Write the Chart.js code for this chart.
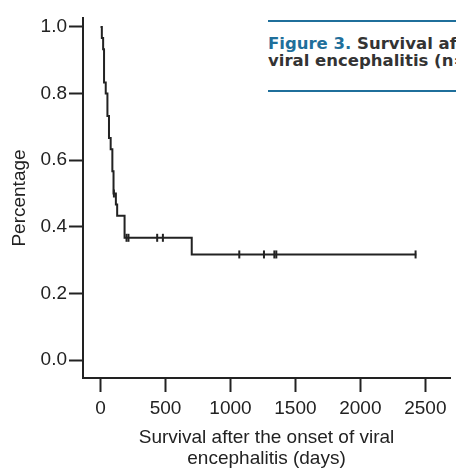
<!DOCTYPE html>
<html>
<head>
<meta charset="utf-8">
<script src="https://cdn.jsdelivr.net/npm/chart.js@4/dist/chart.umd.min.js"></script>
<style>
  body { margin: 0; background: #fff; }
  #wrap { position: relative; width: 456px; height: 476px; overflow: hidden; }
  #caption {
    position: absolute; left: 268px; top: 20px; width: 200px; height: 55px;
    border-top: 2px solid #1f6f9b; border-bottom: 2px solid #1f6f9b;
    background: #fff; white-space: nowrap;
    font: bold 16.5px "DejaVu Sans", sans-serif; line-height: 17px;
    color: #333; padding-top: 13px;
  }
  #caption .fig { color: #1f6f9b; }
</style>
</head>
<body>
<div id="wrap">
  <canvas id="km" width="456" height="476"></canvas>
  <div id="caption"><span class="fig">Figure 3.</span> Survival after the onset of<br>viral encephalitis (n=</div>
</div>
<script>
// Kaplan-Meier steps (day of event, survival after the event)
const survDays = [0, 10, 20, 27, 40, 53, 65, 78, 91, 100, 118, 128, 185, 702, 2430];
const survProb = [1.0, 0.967, 0.933, 0.833, 0.80, 0.733, 0.667, 0.633, 0.567, 0.50, 0.467, 0.433, 0.367, 0.317, 0.317];

// censored patients
const censorDays = [103, 200, 215, 436, 480, 1068, 1258, 1338, 1353, 2425];
const censorProb = [0.50, 0.367, 0.367, 0.367, 0.367, 0.317, 0.317, 0.317, 0.317, 0.317];

const xTicks = [0, 500, 1000, 1500, 2000, 2500];
const yTicks = [0.0, 0.2, 0.4, 0.6, 0.8, 1.0];

const ink = '#222';
const axisFont = { family: '"Liberation Sans", Arial, sans-serif', size: 19 };

const survPoints = survDays.map((d, i) => ({ x: d, y: survProb[i] }));
const censorPoints = censorDays.map((d, i) => ({ x: d, y: censorProb[i] }));

new Chart(document.getElementById('km').getContext('2d'), {
  type: 'line',
  data: {
    datasets: [
      {
        data: survPoints,
        stepped: 'before',
        borderColor: ink,
        borderWidth: 2,
        pointRadius: 0,
        fill: false
      },
      {
        type: 'scatter',
        data: censorPoints,
        pointStyle: 'line',
        rotation: 90,
        pointRadius: 4,
        borderColor: ink,
        borderWidth: 2,
        showLine: false
      }
    ]
  },
  options: {
    responsive: false,
    animation: false,
    layout: { padding: { top: 18, right: 0, left: 0, bottom: 0 } },
    plugins: {
      legend: { display: false },
      tooltip: { enabled: false }
    },
    scales: {
      x: {
        type: 'linear',
        min: -135,
        max: 2690,
        afterBuildTicks: (scale) => { scale.ticks = xTicks.map(v => ({ value: v })); },
        afterFit: (scale) => { scale.height = 98; },
        grid: { drawOnChartArea: false, drawTicks: true, tickLength: 14, tickColor: ink, tickWidth: 2 },
        border: { display: true, color: ink, width: 2 },
        ticks: {
          color: ink, font: axisFont, padding: 5, autoSkip: false, maxRotation: 0,
          callback: (v) => String(v)
        },
        title: {
          display: true,
          text: ['Survival after the onset of viral', 'encephalitis (days)'],
          color: ink,
          font: { ...axisFont, lineHeight: 1.13 },
          padding: { top: 0, bottom: 6 }
        }
      },
      y: {
        type: 'linear',
        min: -0.054,
        max: 1.027,
        afterBuildTicks: (scale) => { scale.ticks = yTicks.map(v => ({ value: v })); },
        afterFit: (scale) => { scale.width = 83; },
        grid: { drawOnChartArea: false, drawTicks: true, tickLength: 14, tickColor: ink, tickWidth: 2 },
        border: { display: true, color: ink, width: 2 },
        ticks: {
          color: ink, font: axisFont, padding: 2,
          callback: (v) => v.toFixed(1)
        },
        title: {
          display: true,
          text: 'Percentage',
          color: ink,
          font: axisFont,
          padding: { top: 8, bottom: 0 }
        }
      }
    }
  }
});
</script>
</body>
</html>
